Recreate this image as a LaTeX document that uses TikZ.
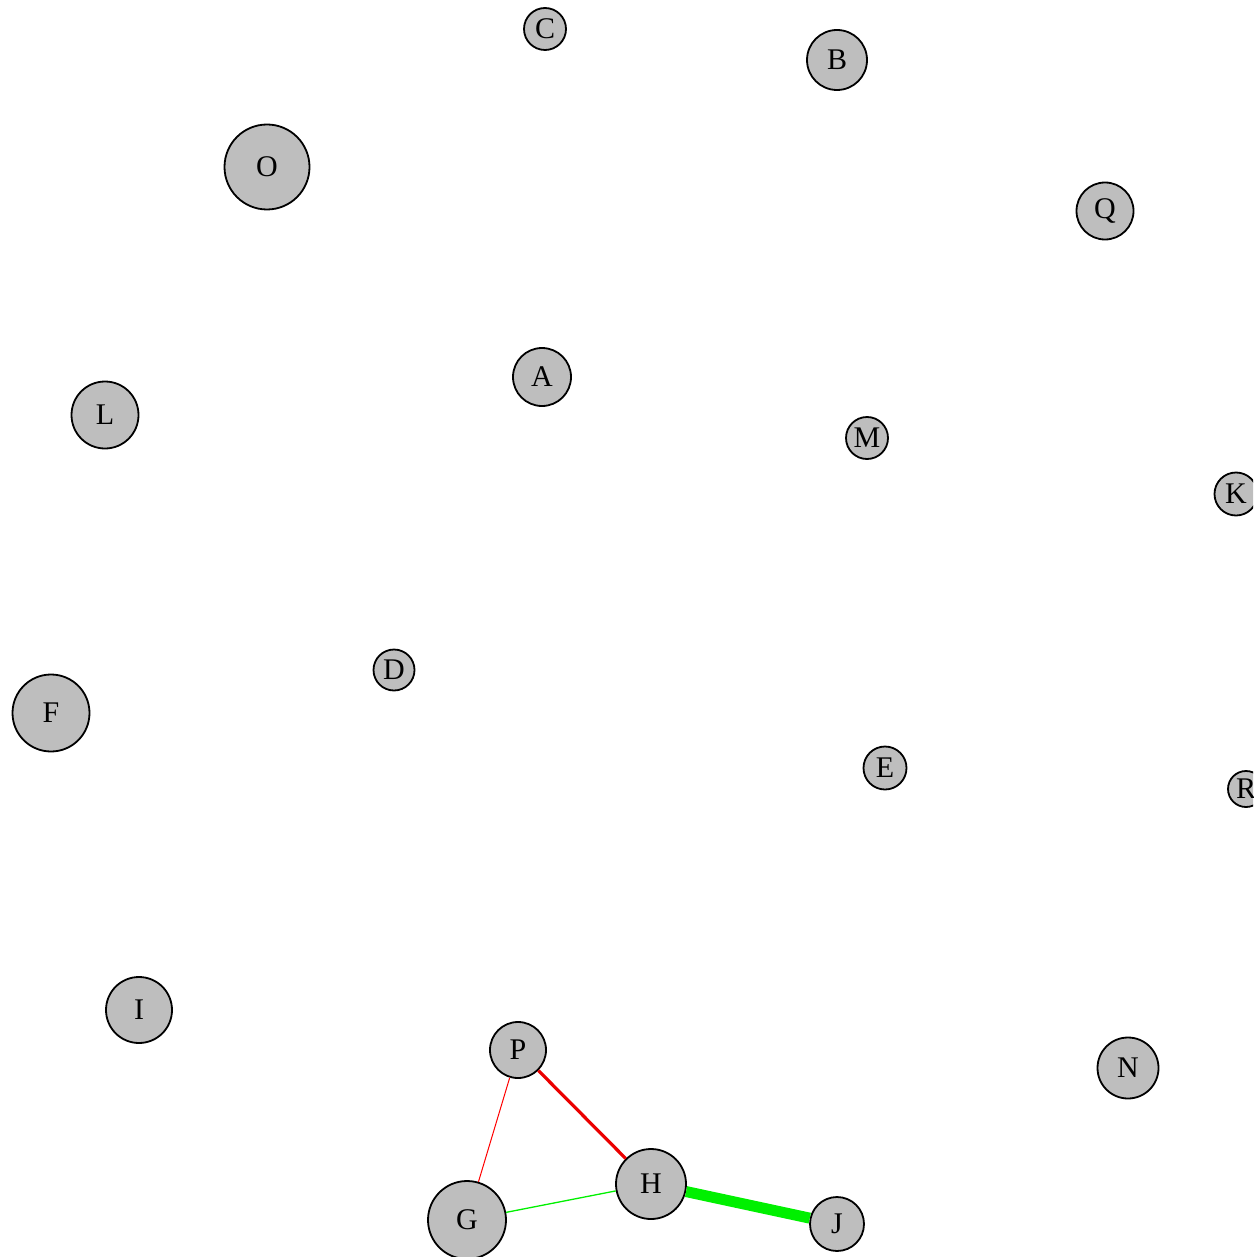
\documentclass[tikz,border=0pt]{standalone}
\usepackage{fontspec}
\setmainfont[Scale=3.0]{Liberation Serif}
\begin{document}
\begin{tikzpicture}[x=1pt,y=-1pt,
  vtx/.style={circle,draw=black,fill={rgb,255:red,190;green,190;blue,190},line width=1.8pt,inner sep=0pt},
  redthin/.style={draw={rgb,255:red,255;green,0;blue,0},line width=1pt},
  redthick/.style={draw={rgb,255:red,235;green,0;blue,0},line width=3.2pt},
  greenthin/.style={draw={rgb,255:red,0;green,240;blue,0},line width=1.3pt},
  greenthick/.style={draw={rgb,255:red,0;green,240;blue,0},line width=11pt}]
\useasboundingbox (0,0) rectangle (1253,1257);
\clip (0,0) rectangle (1253,1257);
\node[vtx,minimum size=42] (C) at (545,29) {C};
\node[vtx,minimum size=60] (B) at (837,60) {B};
\node[vtx,minimum size=85] (O) at (267,167) {O};
\node[vtx,minimum size=57] (Q) at (1105,211) {Q};
\node[vtx,minimum size=58] (A) at (542,377) {A};
\node[vtx,minimum size=67] (L) at (105,415) {L};
\node[vtx,minimum size=42] (M) at (867,438) {M};
\node[vtx,minimum size=43] (K) at (1236,494) {K};
\node[vtx,minimum size=41] (D) at (394,670) {D};
\node[vtx,minimum size=77] (F) at (51,713) {F};
\node[vtx,minimum size=43] (E) at (885,768) {E};
\node[vtx,minimum size=36] (R) at (1246,789) {R};
\node[vtx,minimum size=66] (I) at (139,1010) {I};
\node[vtx,minimum size=56] (P) at (518,1050) {P};
\node[vtx,minimum size=61] (N) at (1128,1068) {N};
\node[vtx,minimum size=70] (H) at (651,1184) {H};
\node[vtx,minimum size=78] (G) at (467,1220) {G};
\node[vtx,minimum size=54] (J) at (837,1224) {J};
\draw[redthin] (P) -- (G);
\draw[redthick] (P) -- (H);
\draw[greenthin] (G) -- (H);
\draw[greenthick] (H) -- (J);
\end{tikzpicture}
\end{document}
